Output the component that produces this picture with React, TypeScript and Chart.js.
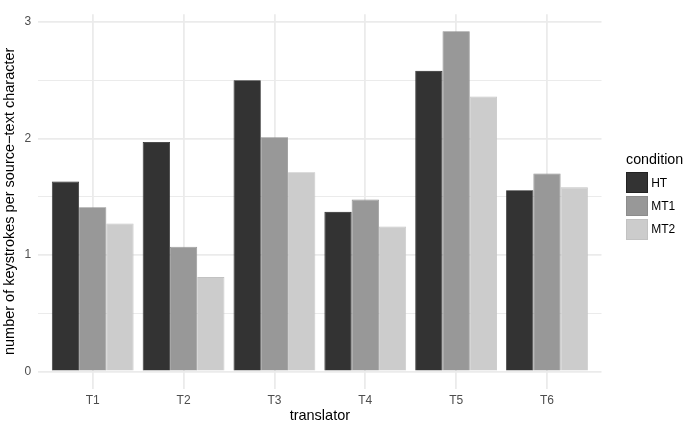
import { useEffect, useRef } from 'react'
import { Chart, registerables } from 'chart.js'

Chart.register(...registerables)

const translators = ['T1', 'T2', 'T3', 'T4', 'T5', 'T6']
const conditions = ['HT', 'MT1', 'MT2']
const htValues = [1.63, 1.97, 2.5, 1.37, 2.58, 1.555]
const mt1Values = [1.41, 1.07, 2.01, 1.475, 2.92, 1.7]
const mt2Values = [1.27, 0.81, 1.71, 1.245, 2.36, 1.58]
const fills = ['#333333', '#989898', '#cccccc']
const edges = ['#222222', '#8c8c8c', '#c2c2c2']
const yTicks = [0, 1, 2, 3]
const yMinorTicks = [0.5, 1.5, 2.5]

const FONT = '"Liberation Sans", Arial, Helvetica, sans-serif'

export default function App() {
  const canvasRef = useRef<HTMLCanvasElement | null>(null)
  const chartRef = useRef<Chart | null>(null)

  useEffect(() => {
    document.body.style.margin = '0'
    if (!canvasRef.current) return
    if (chartRef.current) chartRef.current.destroy()

    const series = [htValues, mt1Values, mt2Values]
    const allTicks = [...yTicks, ...yMinorTicks].sort((a, b) => a - b)

    chartRef.current = new Chart(canvasRef.current, {
      type: 'bar',
      data: {
        labels: translators,
        datasets: conditions.map((c, i) => ({
          label: c,
          data: series[i],
          backgroundColor: fills[i],
          borderColor: edges[i],
          borderWidth: 0.8,
          categoryPercentage: 0.9,
          barPercentage: 1.0,
        })),
      },
      options: {
        animation: false,
        responsive: true,
        maintainAspectRatio: false,
        layout: { padding: { top: 3, right: 84.5, bottom: 0, left: 0 } },
        plugins: {
          legend: { display: false },
          tooltip: { enabled: false },
        },
        scales: {
          x: {
            offset: true,
            grid: { offset: false, color: '#ebebeb', lineWidth: 1.8, drawTicks: false },
            border: { display: false },
            ticks: { color: '#4d4d4d', font: { family: FONT, size: 12 }, padding: 5 },
            title: {
              display: true,
              text: 'translator',
              color: '#000000',
              font: { family: FONT, size: 14.5 },
              padding: { top: 0, bottom: 0 },
            },
            afterBuildTicks: (scale: any) => {
              // ggplot-style discrete expansion of 0.6 on each side
              scale._startValue = scale.min - 0.6
              scale._valueRange = scale.max - scale.min + 1.2
            },
            afterFit: (scale: any) => {
              scale.height = 36.5
            },
          },
          y: {
            min: -0.146,
            max: 3.066,
            grid: {
              color: '#ebebeb',
              lineWidth: (ctx: any) => (yTicks.includes(ctx.tick?.value) ? 1.8 : 1.1),
              drawTicks: false,
            },
            border: { display: false },
            ticks: {
              color: '#4d4d4d',
              font: { family: FONT, size: 12 },
              padding: 7,
              autoSkip: false,
              callback: (v: any) => (yTicks.includes(Number(v)) ? String(v) : ''),
            },
            title: {
              display: true,
              text: 'number of keystrokes per source\u2212text character',
              color: '#000000',
              font: { family: FONT, size: 14.5 },
              padding: { top: 1.3, bottom: 0 },
            },
            afterBuildTicks: (scale: any) => {
              scale.ticks = allTicks.map((v) => ({ value: v }))
            },
            afterFit: (scale: any) => {
              scale.width = 38.2
            },
          },
        },
      },
    })

    return () => {
      if (chartRef.current) {
        chartRef.current.destroy()
        chartRef.current = null
      }
    }
  }, [])

  return (
    <div style={{ position: 'relative', width: 686, height: 425, fontFamily: FONT }}>
      <canvas ref={canvasRef}></canvas>
      <div style={{ position: 'absolute', left: 626, top: 151, color: '#000' }}>
        <div style={{ fontSize: 14.3, lineHeight: '17px', marginBottom: 3 }}>condition</div>
        {conditions.map((c, i) => (
          <div key={c} style={{ display: 'flex', alignItems: 'center', height: 23.3 }}>
            <span
              style={{
                display: 'inline-block',
                width: 21.7,
                height: 20.7,
                boxSizing: 'border-box',
                background: fills[i],
                border: `0.8px solid ${edges[i]}`,
              }}
            ></span>
            <span style={{ fontSize: 12, marginLeft: 3.5 }}>{c}</span>
          </div>
        ))}
      </div>
    </div>
  )
}
